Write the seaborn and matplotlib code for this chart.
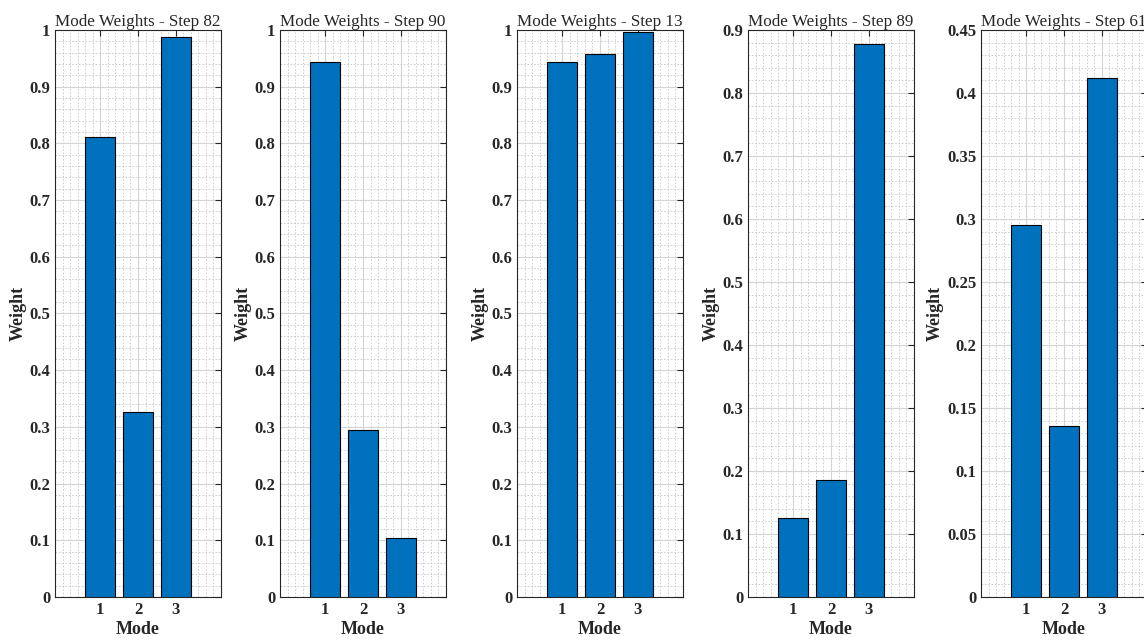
import numpy as np
import pandas as pd
import matplotlib
matplotlib.use("Agg")
import matplotlib.pyplot as plt
import seaborn as sns
from matplotlib.ticker import MultipleLocator, FuncFormatter

sns.set_style("white")
plt.rcParams['font.family'] = ['Liberation Serif', 'DejaVu Serif']

# data
modes = [1, 2, 3]
steps = [82, 90, 13, 89, 61]
w_step82 = [0.812, 0.327, 0.988]
w_step90 = [0.944, 0.294, 0.104]
w_step13 = [0.944, 0.957, 0.997]
w_step89 = [0.126, 0.186, 0.878]
w_step61 = [0.295, 0.136, 0.412]
weights = [w_step82, w_step90, w_step13, w_step89, w_step61]

# y range and tick step of each panel
y_tops = [1.0, 1.0, 1.0, 0.9, 0.45]
y_steps = [0.1, 0.1, 0.1, 0.1, 0.05]

W, H = 1144, 641
fig = plt.figure(figsize=(W / 100, H / 100), dpi=100)
lefts = [55, 280, 517, 748, 981]
ax_w, ax_top, ax_bot = 166, 30, 597

bar_color = "#0072BD"

for i, (step, w) in enumerate(zip(steps, weights)):
    ax = fig.add_axes([lefts[i] / W, 1 - ax_bot / H, ax_w / W, (ax_bot - ax_top) / H])
    df = pd.DataFrame({"Mode": modes, "Weight": w})
    sns.barplot(data=df, x="Mode", y="Weight", native_scale=True, color=bar_color,
                saturation=1, width=0.8, edgecolor="black", linewidth=0.8, ax=ax, zorder=3)
    ax.set_xlim(-0.2, 4.2)
    ax.set_ylim(0, y_tops[i])
    ax.xaxis.set_minor_locator(MultipleLocator(0.2))
    ax.set_xticks(modes)
    ax.yaxis.set_major_locator(MultipleLocator(y_steps[i]))
    ax.yaxis.set_minor_locator(MultipleLocator(y_steps[i] / 5))
    ax.yaxis.set_major_formatter(FuncFormatter(lambda v, p: "%g" % round(v, 4)))
    ax.grid(which="major", color="#d4d4d4", linewidth=0.8, linestyle="-", zorder=0)
    ax.grid(which="minor", color="#c8c8c8", linewidth=0.6, linestyle=(0, (2, 2)), zorder=0)
    ax.set_axisbelow(True)
    ax.tick_params(which="major", direction="in", length=4, top=True, right=True,
                   labelsize=12, color="#262626", width=0.8)
    ax.tick_params(which="minor", length=0)
    for lab in ax.get_xticklabels() + ax.get_yticklabels():
        lab.set_fontweight("bold")
    for sp in ax.spines.values():
        sp.set_color("#262626")
        sp.set_linewidth(0.8)
    ax.set_xlabel("Mode", fontsize=13, fontweight="bold", labelpad=2)
    ax.set_ylabel("Weight", fontsize=13, fontweight="bold", labelpad=2)
    ax.set_title(f"Mode Weights - Step {step}", fontsize=12.3, pad=3)

plt.savefig("out.png", dpi=100)
